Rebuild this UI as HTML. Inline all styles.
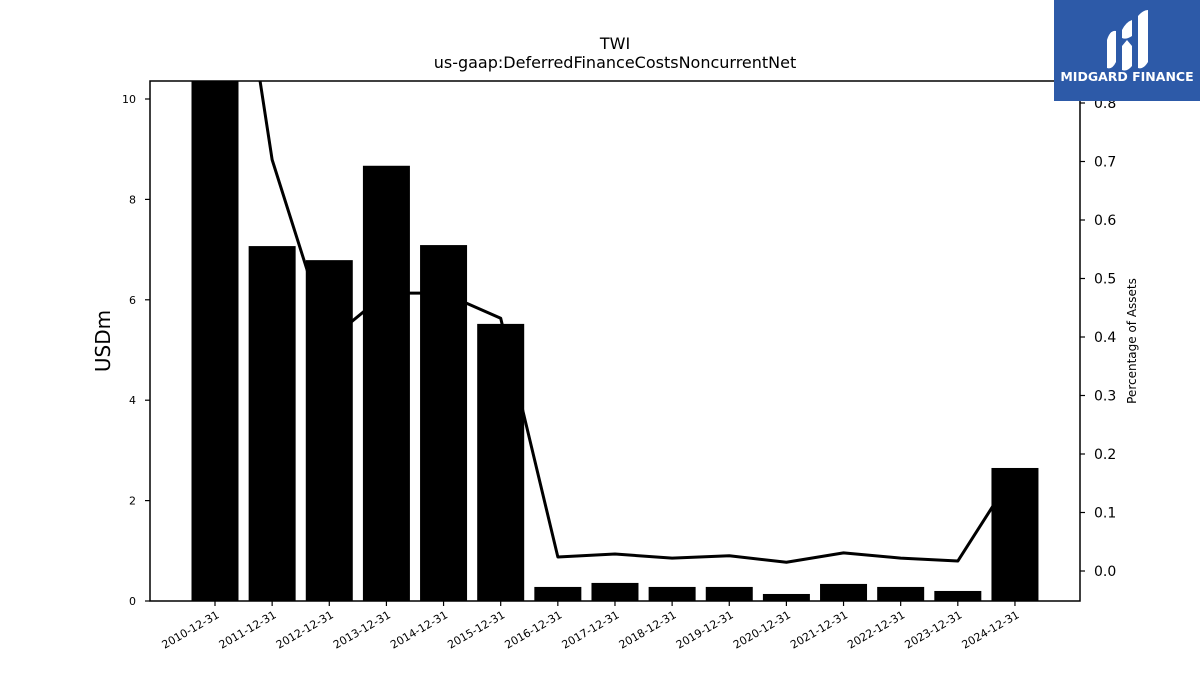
<!DOCTYPE html>
<html><head><meta charset="utf-8"><style>
body{margin:0;background:#fff;font-family:"Liberation Sans","DejaVu Sans",sans-serif}
</style></head><body>
<svg id="chart" width="1200" height="675" xmlns="http://www.w3.org/2000/svg" font-family="DejaVu Sans, Liberation Sans, sans-serif">
<rect width="1200" height="675" fill="#fff"/>
<text x="615" y="49" text-anchor="middle" font-size="16">TWI</text>
<text x="615" y="68" text-anchor="middle" font-size="16">us-gaap:DeferredFinanceCostsNoncurrentNet</text>
<defs><clipPath id="pc"><rect x="150" y="81" width="930" height="520"/></clipPath></defs>
<g id="bars" clip-path="url(#pc)"></g>
<g id="line" clip-path="url(#pc)"></g>
<rect x="150" y="81" width="930" height="520" fill="none" stroke="#000" stroke-width="1.5"/>
<g id="axes"></g>
<text transform="translate(110,341) rotate(-90)" text-anchor="middle" font-size="20">USDm</text>
<text transform="translate(1136,341) rotate(-90)" text-anchor="middle" font-size="12">Percentage of Assets</text>
<g>
<rect x="1054" y="0" width="146" height="101" fill="#2d5aa8"/>
<path d="M1107 40 Q1110 30 1116 31 L1116 62 Q1112 70 1107 68 Z" fill="#fff"/>
<path d="M1122 30 Q1126 22 1132 20 L1132 36 Q1126 40 1122 38 Z M1122 46 L1127 40 L1132 46 L1132 66 Q1127 72 1122 70 Z" fill="#fff"/>
<path d="M1138 16 Q1143 10 1148 10 L1148 62 Q1143 70 1138 68 Z" fill="#fff"/>
<text x="1127" y="81" text-anchor="middle" font-size="12.5" font-weight="bold" fill="#fff">MIDGARD FINANCE</text>
</g>
</svg>
<script>
const categories=["2010-12-31","2011-12-31","2012-12-31","2013-12-31","2014-12-31","2015-12-31","2016-12-31","2017-12-31","2018-12-31","2019-12-31","2020-12-31","2021-12-31","2022-12-31","2023-12-31","2024-12-31"];
const barValues=[11.0,7.07,6.79,8.67,7.09,5.52,0.28,0.36,0.28,0.28,0.14,0.34,0.28,0.2,2.65];
const pctValues=[1.34,0.703,0.395,0.475,0.475,0.432,0.024,0.029,0.022,0.026,0.015,0.031,0.022,0.017,0.17];
const leftTicks=[0,2,4,6,8,10];
const rightTicks=[0.0,0.1,0.2,0.3,0.4,0.5,0.6,0.7,0.8];
const NS="http://www.w3.org/2000/svg";
const x=i=>215+i*57.14;
const yL=v=>601-v*50.2;
const yR=v=>571-v*585;
function mk(tag,attrs,parent){const e=document.createElementNS(NS,tag);for(const k in attrs)e.setAttribute(k,attrs[k]);parent.appendChild(e);return e;}
const bars=document.getElementById('bars'),line=document.getElementById('line'),axes=document.getElementById('axes');
barValues.forEach((v,i)=>{
 const r=mk('rect',{x:x(i)-23.5,y:yL(v),width:47,height:601-yL(v),fill:'#000'},bars);
 
 
});
const p=mk('polyline',{points:pctValues.map((v,i)=>x(i)+','+yR(v)).join(' '),fill:'none',stroke:'#000','stroke-width':3,'stroke-linejoin':'round'},line);


leftTicks.forEach(t=>{
 mk('line',{x1:145,x2:150,y1:yL(t),y2:yL(t),stroke:'#000','stroke-width':1.2},axes);
 const tx=mk('text',{x:136,y:yL(t)+4,'text-anchor':'end','font-size':11},axes);tx.textContent=t;
 
 
});
rightTicks.forEach(t=>{
 mk('line',{x1:1080,x2:1085,y1:yR(t),y2:yR(t),stroke:'#000','stroke-width':1.2},axes);
 const tx=mk('text',{x:1094,y:yR(t)+5,'font-size':14},axes);tx.textContent=t.toFixed(1);
 
 
});
categories.forEach((c,i)=>{
 mk('line',{x1:x(i),x2:x(i),y1:601,y2:606,stroke:'#000','stroke-width':1.2},axes);
 const tx=mk('text',{x:x(i)+5,y:617,'text-anchor':'end','font-size':11,transform:`rotate(-30 ${x(i)+5} 617)`},axes);tx.textContent=c;
 
 
});
</script>
</body></html>
